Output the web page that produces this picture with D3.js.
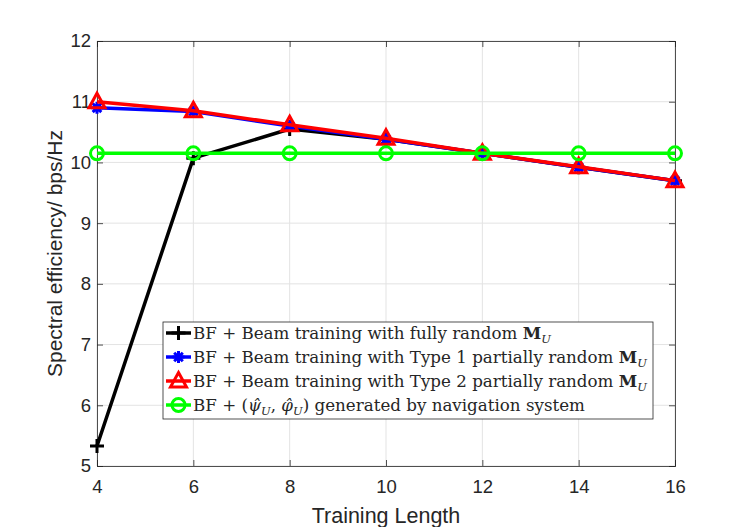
<!DOCTYPE html>
<html>
<head>
<meta charset="utf-8">
<script src="https://cdn.jsdelivr.net/npm/d3@7"></script>
<style>
  body { margin: 0; background: #fff; }
  text { fill: #262626; }
</style>
</head>
<body>
<svg id="chart"></svg>
<script>
// values
const trainingLength = [4, 6, 8, 10, 12, 14, 16];
const fullyRandom = [5.33, 10.07, 10.55, 10.38, 10.15, 9.92, 9.70];
const type1Random = [10.9, 10.84, 10.6, 10.38, 10.15, 9.92, 9.70];
const type2Random = [11.0, 10.85, 10.62, 10.4, 10.15, 9.93, 9.70];
const navigation = [10.15, 10.15, 10.15, 10.15, 10.15, 10.15, 10.15];
const xTicks = [4, 6, 8, 10, 12, 14, 16];
const yTicks = [5, 6, 7, 8, 9, 10, 11, 12];

const width = 747;
const height = 527;
const margin = {top: 41, right: 72, bottom: 61, left: 97};

const svg = d3.select('#chart')
	.attr('width', width)
	.attr('height', height);

const x = d3.scaleLinear().domain([4, 16]).range([margin.left, width - margin.right]);
const y = d3.scaleLinear().domain([5, 12]).range([height - margin.bottom, margin.top]);

// grid
svg.append('g')
	.selectAll('line.gx')
	.data(xTicks)
	.enter().append('line')
	.attr('x1', d => x(d)).attr('x2', d => x(d))
	.attr('y1', y(5)).attr('y2', y(12))
	.attr('stroke', '#e3e3e3').attr('stroke-width', 1);
svg.append('g')
	.selectAll('line.gy')
	.data(yTicks)
	.enter().append('line')
	.attr('x1', x(4)).attr('x2', x(16))
	.attr('y1', d => y(d)).attr('y2', d => y(d))
	.attr('stroke', '#e3e3e3').attr('stroke-width', 1);

// axes (ticks pointing inwards, box on)
const tickLen = 6;
const axisColor = '#262626';
const fmt = d3.format('d');

const xAxis = svg.append('g')
	.attr('transform', `translate(0,${y(5)})`)
	.call(d3.axisBottom(x).tickValues(xTicks).tickSize(-tickLen).tickPadding(14).tickFormat(fmt));
const xTop = svg.append('g')
	.attr('transform', `translate(0,${y(12)})`)
	.call(d3.axisTop(x).tickValues(xTicks).tickSize(-tickLen).tickFormat(''));
const yAxis = svg.append('g')
	.attr('transform', `translate(${x(4)},0)`)
	.call(d3.axisLeft(y).tickValues(yTicks).tickSize(-tickLen).tickPadding(6).tickFormat(fmt));
const yRight = svg.append('g')
	.attr('transform', `translate(${x(16)},0)`)
	.call(d3.axisRight(y).tickValues(yTicks).tickSize(-tickLen).tickFormat(''));

[xAxis, xTop, yAxis, yRight].forEach(g => {
	g.select('.domain').attr('stroke', axisColor).attr('stroke-width', 0.8);
	g.selectAll('.tick line').attr('stroke', axisColor).attr('stroke-width', 0.8);
	g.selectAll('.tick text')
		.attr('fill', axisColor)
		.style('font-family', '"Liberation Sans", Arial, sans-serif')
		.style('font-size', '18.5px');
});

// axis labels
svg.append('text')
	.attr('x', x(10))
	.attr('y', 522.5)
	.attr('text-anchor', 'middle')
	.style('font-family', '"Liberation Sans", Arial, sans-serif')
	.style('font-size', '21.5px')
	.text('Training Length');

svg.append('text')
	.attr('transform', `translate(62,${(y(5) + y(12)) / 2}) rotate(-90)`)
	.attr('text-anchor', 'middle')
	.style('font-family', '"Liberation Sans", Arial, sans-serif')
	.style('font-size', '21px')
	.text('Spectral efficiency/ bps/Hz');

// series
const series = [
	{values: fullyRandom, color: '#000000', marker: 'plus'},
	{values: type1Random, color: '#0000ff', marker: 'star'},
	{values: type2Random, color: '#ff0000', marker: 'triangle'},
	{values: navigation, color: '#00ff00', marker: 'circle'}
];

const line = d3.line()
	.x((d, i) => x(trainingLength[i]))
	.y(d => y(d));

function drawMarker(g, type, color) {
	if (type === 'plus') {
		g.append('path').attr('d', 'M-7,0H7M0,-7V7')
			.attr('stroke', color).attr('stroke-width', 3).attr('fill', 'none');
	} else if (type === 'star') {
		g.append('path').attr('d', 'M-6,0H6M0,-6V6M-4.3,-4.3L4.3,4.3M-4.3,4.3L4.3,-4.3')
			.attr('stroke', color).attr('stroke-width', 3).attr('fill', 'none');
	} else if (type === 'triangle') {
		g.append('path').attr('d', 'M0,-8.5L8,6H-8Z')
			.attr('stroke', color).attr('stroke-width', 3).attr('fill', 'none')
			.attr('stroke-linejoin', 'miter');
	} else {
		g.append('circle').attr('r', 6.5)
			.attr('stroke', color).attr('stroke-width', 3).attr('fill', 'none');
	}
}

series.forEach(s => {
	svg.append('path')
		.datum(s.values)
		.attr('d', line)
		.attr('fill', 'none')
		.attr('stroke', s.color)
		.attr('stroke-width', 3.5)
		.attr('stroke-linejoin', 'round');
	svg.append('g')
		.selectAll('g')
		.data(s.values)
		.enter().append('g')
		.attr('transform', (d, i) => `translate(${x(trainingLength[i])},${y(d)})`)
		.each(function () { drawMarker(d3.select(this), s.marker, s.color); });
});

// legend
const legendX = 163, legendY = 322, legendW = 490, legendH = 97, rowH = 24;
const legend = svg.append('g');
legend.append('rect')
	.attr('x', legendX).attr('y', legendY)
	.attr('width', legendW).attr('height', legendH)
	.attr('fill', '#fff').attr('stroke', '#262626').attr('stroke-width', 0.8);

const legendLabels = [
	[{t: 'BF + Beam training with fully random '}, {t: 'M', b: true}, {t: 'U', sub: true}],
	[{t: 'BF + Beam training with Type 1 partially random '}, {t: 'M', b: true}, {t: 'U', sub: true}],
	[{t: 'BF + Beam training with Type 2 partially random '}, {t: 'M', b: true}, {t: 'U', sub: true}],
	[{t: 'BF + ('}, {t: '\u03C8\u0302', it: true}, {t: 'U', sub: true}, {t: ', '}, {t: '\u03C6\u0302', it: true}, {t: 'U', sub: true}, {t: ') generated by navigation system'}]
];

series.forEach((s, i) => {
	const cy = legendY + 11 + i * rowH;
	legend.append('line')
		.attr('x1', legendX + 3).attr('x2', legendX + 28)
		.attr('y1', cy).attr('y2', cy)
		.attr('stroke', s.color).attr('stroke-width', 3.5);
	const mg = legend.append('g').attr('transform', `translate(${legendX + 15.5},${cy})`);
	drawMarker(mg, s.marker, s.color);

	const txt = legend.append('text')
		.attr('x', legendX + 30)
		.attr('y', cy + 6)
		.style('font-family', '"DejaVu Serif", "Liberation Serif", serif')
		.style('font-size', '16.7px');
	legendLabels[i].forEach(p => {
		const ts = txt.append('tspan').text(p.t);
		if (p.b) ts.style('font-weight', 'bold');
		if (p.it) ts.style('font-style', 'italic');
		if (p.sub) ts.style('font-style', 'italic').style('font-size', '11.5px').attr('dy', 4);
	});
	// reset baseline after subscripts
	let shifted = false;
	txt.selectAll('tspan').each(function (p, k) {
		const part = legendLabels[i][k];
		if (part.sub) shifted = true;
		else if (shifted) { d3.select(this).attr('dy', -4); shifted = false; }
	});
});
</script>
</body>
</html>
